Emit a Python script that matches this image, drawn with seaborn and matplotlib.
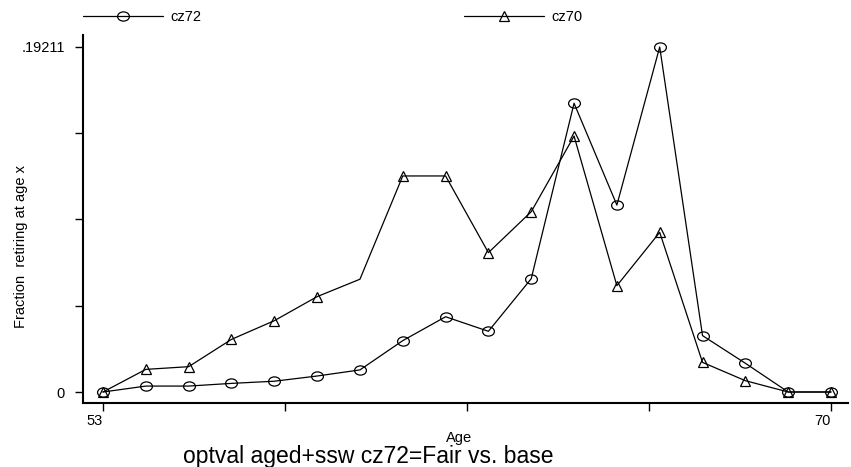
import numpy as np
import seaborn as sns
import matplotlib.pyplot as plt
from matplotlib.path import Path
from matplotlib.transforms import Affine2D

ages = list(range(53, 71))
cz72 = [0.0, 0.0033, 0.0033, 0.0048, 0.0060, 0.0089, 0.0123, 0.0286, 0.0419,
        0.0338, 0.0631, 0.1608, 0.1041, 0.19211, 0.0314, 0.0160, 0.0, 0.0]
cz70 = [0.0, 0.0126, 0.0141, 0.0293, 0.0397, 0.0531, 0.0628, 0.1203, 0.1203,
        0.0776, 0.1004, 0.1425, 0.0592, 0.0889, 0.0165, 0.0063, 0.0, 0.0]
ytop = 0.19211
y_ticklabels = {0: "0", 4: ".19211"}
x_ticklabels = {0: "53", 4: "70"}

sns.set_style("ticks")
plt.rcParams["font.family"] = ["Liberation Sans", "DejaVu Sans"]
plt.rcParams["text.color"] = "black"
plt.rcParams["axes.labelcolor"] = "black"

# slightly flattened circle like the original
ellipse = Path.unit_circle().transformed(Affine2D().scale(1.0, 0.78))

fig = plt.figure(figsize=(8.51, 4.67), dpi=100)
ax = fig.add_axes([83 / 851, 1 - 403 / 467, 765 / 851, 368 / 467])

sns.lineplot(x=ages, y=cz72, ax=ax, color="black", lw=0.9, marker=ellipse,
             markersize=8.5, markerfacecolor="none", markeredgecolor="black",
             markeredgewidth=0.9, label="cz72")
# the age-59 point of cz70 has no marker in the original
marks = [i for i in range(len(ages)) if ages[i] != 59]
sns.lineplot(x=ages, y=cz70, ax=ax, color="black", lw=0.9, marker="^",
             markersize=7.5, markerfacecolor="none", markeredgecolor="black",
             markeredgewidth=0.9, markevery=marks, label="cz70")

ax.set_xlim(52.533, 70.397)
ax.set_ylim(-0.006125, 0.19879)

xt = np.linspace(ages[0], ages[-1], 5)
yt = np.linspace(0, ytop, 5)
ax.set_xticks(xt)
ax.set_xticklabels([x_ticklabels.get(i, "") for i in range(5)], ha="right")
ax.set_yticks(yt)
ax.set_yticklabels([y_ticklabels.get(i, "") for i in range(5)])
ax.tick_params(axis="both", direction="out", length=6, width=1.0,
               color="black", labelsize=10.5, labelcolor="black")
ax.tick_params(axis="y", pad=7)
ax.tick_params(axis="x", pad=2)

for s in ["top", "right"]:
    ax.spines[s].set_visible(False)
for s in ["left", "bottom"]:
    ax.spines[s].set_color("black")
    ax.spines[s].set_linewidth(1.5)

ax.set_xlabel("Age", fontsize=10.5, color="black")
ax.xaxis.set_label_coords(0.4915, -0.076)
ax.set_ylabel("Fraction  retiring at age x", fontsize=10.5, color="black")
ax.yaxis.set_label_coords(-0.072, 0.424)

leg = ax.legend(ncol=2, loc="center left", bbox_to_anchor=(0.0, 1.049),
                frameon=False, fontsize=10.5, handlelength=5.5,
                handletextpad=0.5, columnspacing=18.0, borderpad=0,
                borderaxespad=0, numpoints=1)
for t in leg.get_texts():
    t.set_color("black")

fig.text(368 / 851, 1 - 457 / 467, "optval aged+ssw cz72=Fair vs. base",
         fontsize=16.5, ha="center", va="center", color="black")

fig.savefig("out.png", dpi=100)
